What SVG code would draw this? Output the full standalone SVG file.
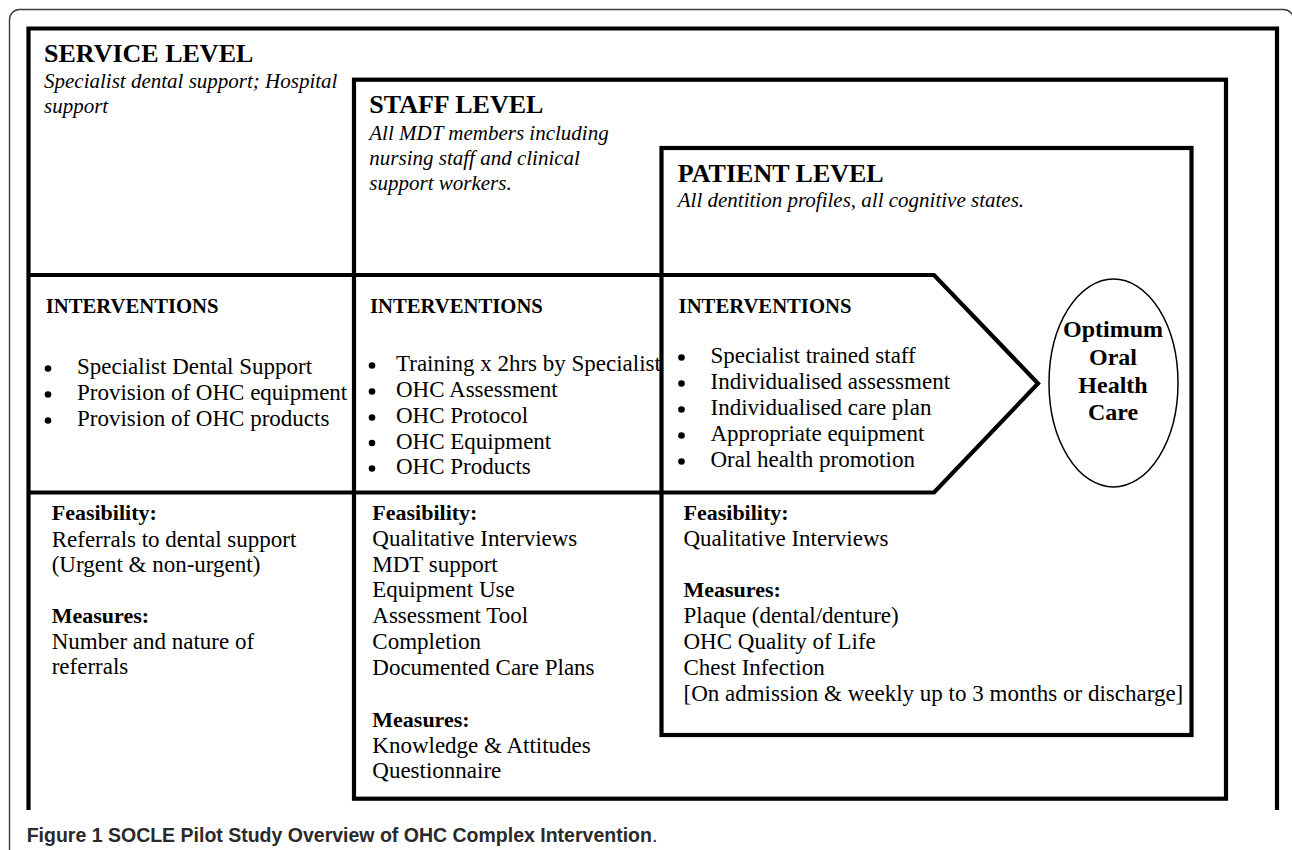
<svg xmlns="http://www.w3.org/2000/svg" width="1292" height="850" viewBox="0 0 1292 850">
<style>
.frame{fill:none;stroke:#3c3c3c;stroke-width:1.4}
.box{fill:none;stroke:#000;stroke-width:4.2}
.ell{fill:none;stroke:#000;stroke-width:1.5}
.t{font-family:"Liberation Serif","Times New Roman",serif;fill:#000}
.h1{font-size:26px;font-weight:bold}
.sub{font-size:21px;font-style:italic}
.h2{font-size:20.7px;font-weight:bold}
.b{font-size:23px}
.hb{font-size:22px;font-weight:bold}
.oc{font-size:24px;font-weight:bold;text-anchor:middle}
.cap{font-family:"Liberation Sans",Arial,sans-serif;font-size:19.5px;font-weight:bold;fill:#2a2a2a}
</style>
<rect x="0" y="0" width="1292" height="850" fill="#fff"/>
<rect class="frame" x="9.5" y="9.5" width="1284" height="880" rx="10"/>

<g id="service-level">
<path class="box" d="M28.5,810 V28.5 H1277 V810"/>
<text class="t h1" x="44" y="62">SERVICE LEVEL</text>
<text class="t sub" x="44" y="88">Specialist dental support; Hospital</text>
<text class="t sub" x="44" y="113">support</text>
<text class="t h2" x="45.7" y="313">INTERVENTIONS</text>
<g fill="#000"><circle cx="48" cy="368.5" r="3.3"/><circle cx="48" cy="394.5" r="3.3"/><circle cx="48" cy="420.5" r="3.3"/></g>
<text class="t b" x="77" y="374">Specialist Dental Support</text>
<text class="t b" x="77" y="400">Provision of OHC equipment</text>
<text class="t b" x="77" y="426">Provision of OHC products</text>
<text class="t hb" x="51.7" y="520">Feasibility:</text>
<text class="t b" x="51.7" y="546.5">Referrals to dental support</text>
<text class="t b" x="51.7" y="572">(Urgent &amp; non-urgent)</text>
<text class="t hb" x="51.7" y="622.7">Measures:</text>
<text class="t b" x="51.7" y="649">Number and nature of</text>
<text class="t b" x="51.7" y="674.3">referrals</text>
</g>

<g id="staff-level">
<rect class="box" x="354" y="79.7" width="872" height="719"/>
<text class="t h1" x="369.3" y="113.3">STAFF LEVEL</text>
<text class="t sub" x="369.3" y="140">All MDT members including</text>
<text class="t sub" x="369.3" y="165">nursing staff and clinical</text>
<text class="t sub" x="369.3" y="190">support workers.</text>
<text class="t h2" x="370" y="313">INTERVENTIONS</text>
<g fill="#000"><circle cx="372" cy="365.5" r="3.3"/><circle cx="372" cy="391.5" r="3.3"/><circle cx="372" cy="417.5" r="3.3"/><circle cx="372" cy="443" r="3.3"/><circle cx="372" cy="468.5" r="3.3"/></g>
<text class="t b" x="396" y="371">Training x 2hrs by Specialist</text>
<text class="t b" x="396" y="397">OHC Assessment</text>
<text class="t b" x="396" y="423">OHC Protocol</text>
<text class="t b" x="396" y="448.5">OHC Equipment</text>
<text class="t b" x="396" y="474">OHC Products</text>
<text class="t hb" x="372.3" y="520">Feasibility:</text>
<text class="t b" x="372.3" y="546">Qualitative Interviews</text>
<text class="t b" x="372.3" y="571.7">MDT support</text>
<text class="t b" x="372.3" y="597.3">Equipment Use</text>
<text class="t b" x="372.3" y="623.3">Assessment Tool</text>
<text class="t b" x="372.3" y="649.3">Completion</text>
<text class="t b" x="372.3" y="675">Documented Care Plans</text>
<text class="t hb" x="372.3" y="726.7">Measures:</text>
<text class="t b" x="372.3" y="752.7">Knowledge &amp; Attitudes</text>
<text class="t b" x="372.3" y="778.3">Questionnaire</text>
</g>

<g id="patient-level">
<rect class="box" x="661.5" y="148" width="530" height="587"/>
<text class="t h1" x="677.8" y="181.7">PATIENT LEVEL</text>
<text class="t sub" x="677.8" y="206.7">All dentition profiles, all cognitive states.</text>
<text class="t h2" x="678.6" y="313">INTERVENTIONS</text>
<g fill="#000"><circle cx="681.5" cy="357.5" r="3.3"/><circle cx="681.5" cy="383.5" r="3.3"/><circle cx="681.5" cy="409.5" r="3.3"/><circle cx="681.5" cy="435.5" r="3.3"/><circle cx="681.5" cy="461.5" r="3.3"/></g>
<text class="t b" x="710.5" y="363">Specialist trained staff</text>
<text class="t b" x="710.5" y="389">Individualised assessment</text>
<text class="t b" x="710.5" y="415">Individualised care plan</text>
<text class="t b" x="710.5" y="441">Appropriate equipment</text>
<text class="t b" x="710.5" y="467">Oral health promotion</text>
<text class="t hb" x="683.5" y="520">Feasibility:</text>
<text class="t b" x="683.5" y="546">Qualitative Interviews</text>
<text class="t hb" x="683.5" y="596.7">Measures:</text>
<text class="t b" x="683.5" y="623.3">Plaque (dental/denture)</text>
<text class="t b" x="683.5" y="649">OHC Quality of Life</text>
<text class="t b" x="683.5" y="675">Chest Infection</text>
<text class="t b" x="683.5" y="700.7">[On admission &amp; weekly up to 3 months or discharge]</text>
</g>

<g id="interventions-band">
<path class="box" d="M28.5,275 H934 L1038,383.5 L934,492.5 H28.5"/>
</g>

<g id="outcome">
<ellipse class="ell" cx="1113.5" cy="383" rx="64.5" ry="104"/>
<text class="t oc" x="1113" y="337">Optimum</text>
<text class="t oc" x="1113" y="365">Oral</text>
<text class="t oc" x="1113" y="393">Health</text>
<text class="t oc" x="1113" y="420">Care</text>
</g>

<g id="connectors"></g>

<g id="caption">
<text class="cap" x="26.7" y="842">Figure 1 SOCLE Pilot Study Overview of OHC Complex Intervention<tspan font-weight="normal">.</tspan></text>
</g>
</svg>
